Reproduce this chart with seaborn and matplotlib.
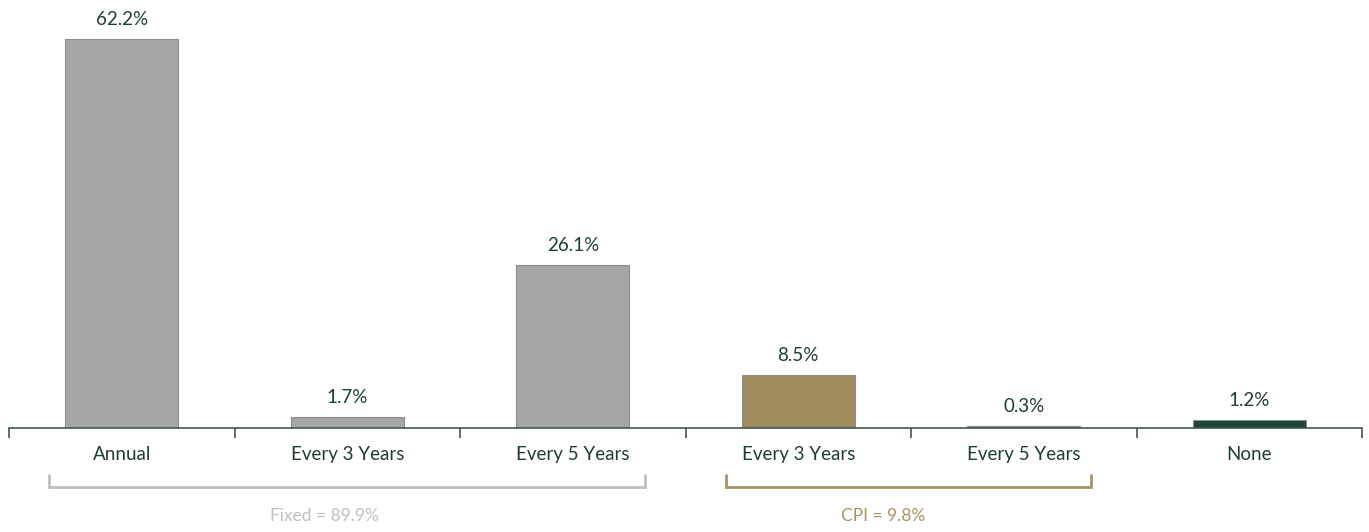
import numpy as np
import pandas as pd
import matplotlib
matplotlib.use("Agg")
import matplotlib.pyplot as plt
import matplotlib.transforms as mtransforms
import seaborn as sns

# datos del gráfico
keys = ["fixed_annual", "fixed_3y", "fixed_5y", "cpi_3y", "cpi_5y", "none"]
etiquetas = ["Annual", "Every 3 Years", "Every 5 Years", "Every 3 Years", "Every 5 Years", "None"]
valores = [62.2, 1.7, 26.1, 8.5, 0.3, 1.2]
grupos = ["Fixed", "Fixed", "Fixed", "CPI", "CPI", "None"]
total_fixed = "Fixed = 89.9%"
total_cpi = "CPI = 9.8%"

colores = {"Fixed": "#A6A6A6", "CPI": "#A08C5F", "None": "#1C4439"}
color_texto = "#1F3D36"

sns.set_style("white")
plt.rcParams["font.family"] = ["Lato", "DejaVu Sans"]

df = pd.DataFrame({"key": keys, "valor": valores, "grupo": grupos})

fig = plt.figure(figsize=(13.69, 5.32), dpi=100)
ax = fig.add_axes([9 / 1369, 1 - 428 / 532, (1362 - 9) / 1369, 428 / 532])

sns.barplot(data=df, x="key", y="valor", hue="grupo", palette=colores,
            width=0.5, dodge=False, legend=False, ax=ax, saturation=1,
            edgecolor="#8C8C8C", linewidth=0.8)

for cont in ax.containers:
    ax.bar_label(cont, labels=[f"{v:.1f}%" for v in cont.datavalues],
                 padding=8, fontsize=13.5, color=color_texto)

ax.set_xlim(-0.5, len(keys) - 0.5)
ax.set_ylim(0, 68.4)
ax.set_xticks(range(len(keys)))
ax.set_xticklabels(etiquetas, fontsize=13.5, color=color_texto)
ax.set_xticks(np.arange(-0.5, len(keys)), minor=True)
ax.tick_params(axis="x", which="major", length=0, pad=13)
ax.tick_params(axis="x", which="minor", length=7, width=1.2, color="#3E5A52",
               direction="out", bottom=True)
ax.set_yticks([])
ax.set_xlabel("")
ax.set_ylabel("")
for s in ["top", "right", "left"]:
    ax.spines[s].set_visible(False)
ax.spines["bottom"].set_color("#3E5A52")
ax.spines["bottom"].set_linewidth(1.2)

# llaves de agrupación debajo del eje
trans = mtransforms.blended_transform_factory(ax.transData, ax.transAxes)
def llave(x0, x1, color, texto, xt):
    y_top = -47 / 428
    y_bot = -59 / 428
    ax.plot([x0, x0, x1, x1], [y_top, y_bot, y_bot, y_top], color=color,
            lw=2, transform=trans, clip_on=False, solid_joinstyle="miter")
    ax.text(xt, -88 / 428, texto, color=color, fontsize=12.5, ha="center",
            va="center", transform=trans)

llave(-0.323, 2.32, "#BFBFBF", total_fixed, 0.897)
llave(2.68, 4.30, "#A89467", total_cpi, 3.376)

fig.savefig("out.png", dpi=100)
